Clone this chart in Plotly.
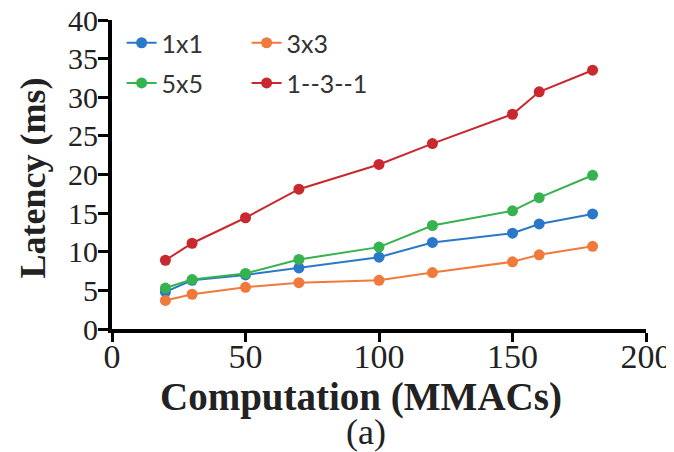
import plotly.graph_objects as go

computation = [20, 30, 50, 70, 100, 120, 150, 160, 180]
lat_1x1 = [4.8, 6.3, 7.0, 7.9, 9.3, 11.2, 12.4, 13.6, 14.9]
lat_3x3 = [3.7, 4.5, 5.4, 6.0, 6.3, 7.3, 8.7, 9.6, 10.7]
lat_5x5 = [5.3, 6.4, 7.2, 9.0, 10.6, 13.4, 15.3, 17.0, 19.9]
lat_131 = [8.9, 11.1, 14.4, 18.1, 21.3, 24.0, 27.8, 30.7, 33.5]

series_names = ["1x1", "3x3", "5x5", "1--3--1"]
series_vals = [lat_1x1, lat_3x3, lat_5x5, lat_131]
series_colors = ["#2a78c8", "#f07a3c", "#36b24e", "#c8282e"]
series_legend = ["legend", "legend", "legend2", "legend2"]

x_ticks = [0, 50, 100, 150, 200]
y_ticks = [0, 5, 10, 15, 20, 25, 30, 35, 40]

fig = go.Figure()
for name, vals, col, lg in zip(series_names, series_vals, series_colors, series_legend):
    fig.add_trace(go.Scatter(
        x=computation, y=vals, name=name, mode="lines+markers",
        line=dict(color=col, width=2),
        marker=dict(color=col, size=11, symbol="circle"),
        legend=lg,
    ))

serif = "Liberation Serif, Times New Roman, serif"
legend_common = dict(
    orientation="h", xanchor="left", yanchor="top",
    bgcolor="rgba(0,0,0,0)", entrywidth=80, entrywidthmode="pixels",
    font=dict(family="Lato, Liberation Sans, sans-serif", size=25, color="#333333"),
    itemclick=False, tracegroupgap=0,
)

fig.update_layout(
    width=674, height=452,
    margin=dict(l=104, r=36, t=12, b=131),
    paper_bgcolor="white", plot_bgcolor="white",
    showlegend=True,
    legend=dict(x=0.018, y=1.0, **legend_common),
    legend2=dict(x=0.018, y=0.87, **legend_common),
    xaxis=dict(
        range=[0, 200], tickvals=x_ticks, ticktext=[str(v) for v in x_ticks],
        showgrid=False, zeroline=False, showline=True, linecolor="black", linewidth=4,
        ticks="outside", ticklen=9, tickwidth=3, tickcolor="black", automargin=False,
        ticklabelstandoff=-15, ticklabeloverflow="allow",
        tickfont=dict(family=serif, size=34, color="#222222"),
    ),
    yaxis=dict(
        range=[0, 40], tickvals=y_ticks, ticktext=[str(v) for v in y_ticks],
        showgrid=False, zeroline=False, showline=True, linecolor="black", linewidth=4,
        ticks="outside", ticklen=10, tickwidth=3, tickcolor="black", automargin=False,
        ticklabelstandoff=-6, ticklabeloverflow="allow",
        tickfont=dict(family=serif, size=30, color="#222222"),
    ),
    annotations=[
        dict(text="<b>Computation (MMACs)</b>", xref="paper", yref="paper",
             x=0.466, y=-0.22, xanchor="center", yanchor="middle", showarrow=False,
             font=dict(family=serif, size=39, color="#222222")),
        dict(text="(a)", xref="paper", yref="paper",
             x=0.476, y=-0.333, xanchor="center", yanchor="middle", showarrow=False,
             font=dict(family=serif, size=36, color="#222222")),
        dict(text="<b>Latency (ms)</b>", xref="paper", yref="paper",
             x=-0.148, y=0.49, xanchor="center", yanchor="middle", showarrow=False,
             textangle=-90,
             font=dict(family=serif, size=36, color="#222222")),
    ],
)

fig.write_html("out.html")
